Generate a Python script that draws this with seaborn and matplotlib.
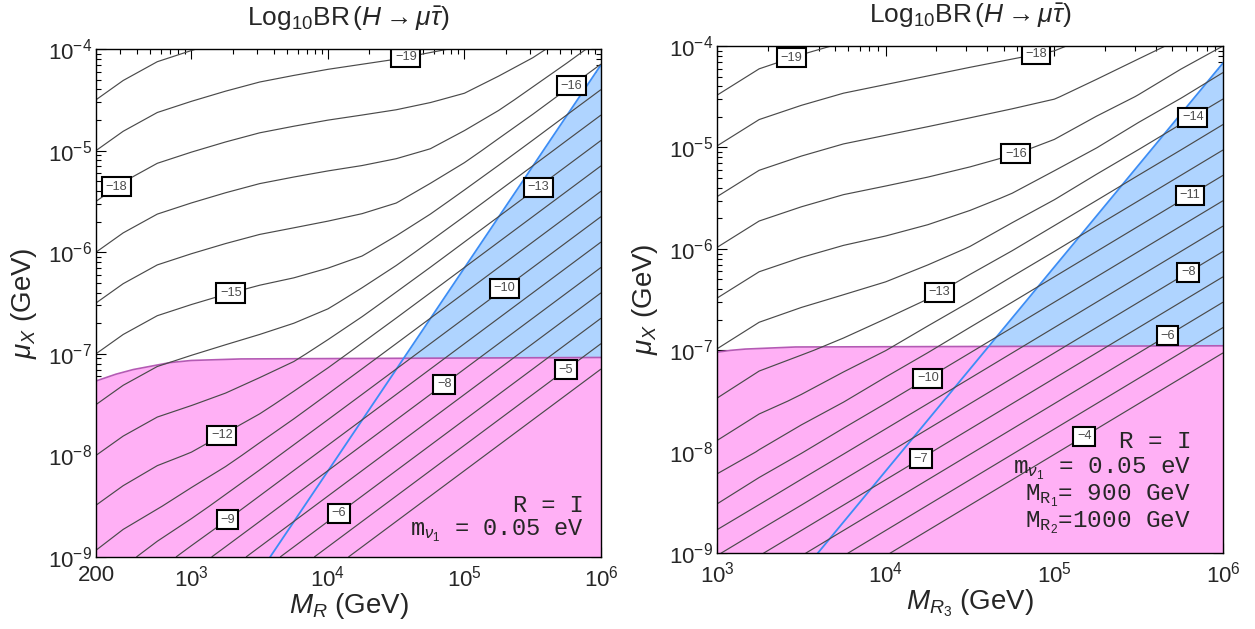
import numpy as np
import matplotlib
matplotlib.use('Agg')
import matplotlib.pyplot as plt
import seaborn as sns

sns.set_theme(style='ticks')
plt.rcParams['font.family'] = ['Liberation Sans', 'DejaVu Sans']
plt.rcParams['mathtext.fontset'] = 'custom'
plt.rcParams['mathtext.rm'] = 'Liberation Sans'
plt.rcParams['mathtext.it'] = 'Liberation Sans:italic'
plt.rcParams['mathtext.tt'] = 'Liberation Mono'

# ---- data ----
# grid: log10 of M_R [GeV] (columns) and log10 of mu_X [GeV] (rows)
log_mr_left = [2.301, 2.5, 2.75, 3.0, 3.25, 3.5, 3.75, 4.0, 4.25, 4.5, 4.75, 5.0, 5.25, 5.5, 5.75, 6.0]
log_mr_right = [3.0, 3.25, 3.5, 3.75, 4.0, 4.25, 4.5, 4.75, 5.0, 5.25, 5.5, 5.75, 6.0]
log_mux = [-9.0, -8.5, -8.0, -7.5, -7.0, -6.5, -6.0, -5.5, -5.0, -4.5, -4.0]

# log10 BR(H -> mu tau) on that grid
log_br_left = [
    [-10.85, -10.31, -9.51, -8.58, -7.60, -6.60, -5.60, -4.60, -3.60, -2.60, -1.60, -0.60, 0.40, 1.40, 2.40, 3.40],
    [-11.98, -11.58, -11.09, -10.46, -9.58, -8.60, -7.60, -6.60, -5.60, -4.60, -3.60, -2.60, -1.60, -0.60, 0.40, 1.40],
    [-13.00, -12.62, -12.23, -11.93, -11.40, -10.56, -9.59, -8.60, -7.60, -6.60, -5.60, -4.60, -3.60, -2.60, -1.60, -0.60],
    [-14.00, -13.62, -13.25, -13.02, -12.76, -12.32, -11.55, -10.59, -9.60, -8.60, -7.60, -6.60, -5.60, -4.60, -3.60, -2.60],
    [-15.00, -14.62, -14.25, -14.03, -13.82, -13.60, -13.26, -12.54, -11.59, -10.60, -9.60, -8.60, -7.60, -6.60, -5.60, -4.60],
    [-16.00, -15.62, -15.25, -15.03, -14.83, -14.65, -14.49, -14.19, -13.52, -12.59, -11.60, -10.60, -9.60, -8.60, -7.60, -6.60],
    [-17.00, -16.62, -16.25, -16.03, -15.83, -15.65, -15.52, -15.37, -15.12, -14.50, -13.59, -12.60, -11.60, -10.60, -9.60, -8.60],
    [-18.00, -17.62, -17.25, -17.03, -16.83, -16.65, -16.52, -16.40, -16.28, -16.05, -15.47, -14.58, -13.60, -12.60, -11.60, -10.60],
    [-19.00, -18.62, -18.25, -18.03, -17.83, -17.65, -17.52, -17.40, -17.30, -17.18, -16.96, -16.44, -15.57, -14.60, -13.60, -12.60],
    [-20.00, -19.62, -19.25, -19.03, -18.83, -18.65, -18.52, -18.40, -18.30, -18.20, -18.06, -17.86, -17.38, -16.56, -15.59, -14.60],
    [-21.00, -20.62, -20.25, -20.03, -19.83, -19.65, -19.52, -19.40, -19.30, -19.20, -19.07, -18.94, -18.71, -18.30, -17.54, -16.59],
]
log_br_right = [
    [-8.09, -7.10, -6.10, -5.10, -4.10, -3.10, -2.10, -1.10, -0.10, 0.90, 1.90, 2.90, 3.90],
    [-10.05, -9.08, -8.10, -7.10, -6.10, -5.10, -4.10, -3.10, -2.10, -1.10, -0.10, 0.90, 1.90],
    [-11.73, -10.94, -10.06, -9.09, -8.10, -7.10, -6.10, -5.10, -4.10, -3.10, -2.10, -1.10, -0.10],
    [-12.94, -12.36, -11.83, -11.04, -10.09, -9.10, -8.10, -7.10, -6.10, -5.10, -4.10, -3.10, -2.10],
    [-13.97, -13.44, -13.12, -12.71, -12.01, -11.09, -10.10, -9.10, -8.10, -7.10, -6.10, -5.10, -4.10],
    [-14.97, -14.45, -14.16, -13.90, -13.60, -12.98, -12.08, -11.10, -10.10, -9.10, -8.10, -7.10, -6.10],
    [-15.97, -15.45, -15.17, -14.93, -14.74, -14.47, -13.93, -13.07, -12.10, -11.10, -10.10, -9.10, -8.10],
    [-16.97, -16.45, -16.17, -15.93, -15.76, -15.58, -15.34, -14.87, -14.06, -13.09, -12.10, -11.10, -10.10],
    [-17.97, -17.45, -17.17, -16.93, -16.76, -16.59, -16.41, -16.20, -15.80, -15.02, -14.08, -13.10, -12.10],
    [-18.97, -18.45, -18.17, -17.93, -17.76, -17.59, -17.42, -17.25, -17.06, -16.61, -15.94, -15.06, -14.09],
    [-19.97, -19.45, -19.17, -18.93, -18.76, -18.59, -18.42, -18.26, -18.10, -17.75, -17.36, -16.79, -16.00],
]
levels = list(range(-20, -3))

# excluded regions (GeV)
pink_mr_left = [200, 280, 375, 700, 1000, 2300, 1e6]
pink_mux_left = [5.4e-8, 6.3e-8, 7.0e-8, 8.2e-8, 8.6e-8, 8.9e-8, 9.2e-8]
pink_mr_right = [1000, 1200, 1470, 2920, 1e6]
pink_mux_right = [9.6e-8, 1.0e-7, 1.03e-7, 1.08e-7, 1.11e-7]
blue_mr_left = [3770, 1e6]
blue_mux_left = [1e-9, 7.0e-5]
blue_mr_right = [3950, 1e6]
blue_mux_right = [1e-9, 6.8e-5]

xticks_left = [200, 1e3, 1e4, 1e5, 1e6]
xticklabels_left = ['200', '$10^{3}$', '$10^{4}$', '$10^{5}$', '$10^{6}$']
xticks_right = [1e3, 1e4, 1e5, 1e6]
xticklabels_right = ['$10^{3}$', '$10^{4}$', '$10^{5}$', '$10^{6}$']
yticks = [-9, -8, -7, -6, -5, -4]
yticklabels = ['$10^{-9}$', '$10^{-8}$', '$10^{-7}$', '$10^{-6}$', '$10^{-5}$', '$10^{-4}$']

notes_left = ['R = I', 'm$_{\\nu_1}$ = 0.05 eV']
notes_right = ['R = I', 'm$_{\\nu_1}$ = 0.05 eV', 'M$_{\\mathtt{R}_1}$= 900 GeV', 'M$_{\\mathtt{R}_2}$=1000 GeV']

# where the contour labels and notes sit
lab_left = [(4.58, -4.15), (2.447, -5.35), (5.786, -4.37), (3.30, -6.46), (5.54, -5.36), (3.21, -7.77),
            (5.30, -6.37), (3.258, -8.62), (4.858, -7.31), (4.089, -8.59), (5.749, -7.17)]
lab_right = [(3.458, -4.19), (4.906, -4.21), (4.77, -5.056), (5.818, -4.694), (4.302, -6.385), (5.806, -5.474),
             (4.247, -7.263), (5.794, -6.23), (4.206, -8.06), (5.673, -6.86), (5.178, -7.849)]
notes_y_left = [0.088, 0.043]
notes_y_right = [0.207, 0.158, 0.104, 0.051]

# ---- styles ----
pink = '#FFB0F5'
pink_edge = '#B45AB4'
blue = '#AFD4FF'
blue_line = '#3C8DF5'
line_col = '#4a4a4a'

fig = plt.figure(figsize=(12.55, 6.29), dpi=100)
ax1 = fig.add_axes([96 / 1255, 72 / 629, 505 / 1255, 508 / 629])
ax2 = fig.add_axes([717 / 1255, 75.7 / 629, 506 / 1255, 507.3 / 629])

panels = [
    (ax1, log_mr_left, log_br_left, pink_mr_left, pink_mux_left, blue_mr_left, blue_mux_left, lab_left,
     xticks_left, xticklabels_left, '$M_R$ (GeV)'),
    (ax2, log_mr_right, log_br_right, pink_mr_right, pink_mux_right, blue_mr_right, blue_mux_right, lab_right,
     xticks_right, xticklabels_right, '$M_{R_3}$ (GeV)'),
]

for ax, xs, t, pmr, pmu, bmr, bmu, labpos, xt, xtl, xlab in panels:
    bx, by = np.log10(bmr), np.log10(bmu)
    px, py = np.log10(pmr), np.log10(pmu)
    ax.fill_between(bx, -9, by, color=blue, lw=0, zorder=1)
    ax.fill_between(px, -9, py, color=pink, lw=0, zorder=1.1)
    sns.lineplot(x=px, y=py, ax=ax, color=pink_edge, lw=1.2, estimator=None, sort=False, zorder=1.2)
    sns.lineplot(x=bx, y=by, ax=ax, color=blue_line, lw=1.3, estimator=None, sort=False, zorder=1.3)

    cs = ax.contour(xs, log_mux, np.array(t), levels=levels, colors=line_col,
                    linewidths=0.85, linestyles='solid', zorder=2)
    lab = ax.clabel(cs, inline=False, fontsize=9.2, manual=labpos,
                    fmt=lambda v: f'{v:.0f}'.replace('-', '\u2212'))
    for tx in lab:
        tx.set_rotation(0)
        tx.set_zorder(5)
        tx.set_bbox(dict(boxstyle='square,pad=0.28', fc='white', ec='black', lw=1.5))

    lo = np.log10(xt[0])
    ax.set_xlim(lo, 6)
    ax.set_ylim(-9, -4)
    ax.set_xticks(np.log10(xt))
    ax.set_xticklabels(xtl)
    minx = [np.log10(k * 10.0 ** n) for n in range(2, 6) for k in range(2, 10)]
    ax.set_xticks([m for m in minx if lo < m < 6], minor=True)
    ax.set_yticks(yticks)
    ax.set_yticklabels(yticklabels)
    ax.set_yticks([np.log10(k * 10.0 ** n) for n in range(-9, -4) for k in range(2, 10)], minor=True)
    ax.tick_params(which='both', direction='in', top=True, right=True, color='black', width=0.8)
    ax.tick_params(which='major', length=7, labelsize=16)
    ax.tick_params(axis='x', which='major', pad=6)
    ax.tick_params(axis='y', which='major', pad=3)
    ax.tick_params(which='minor', length=3.5)
    for s in ax.spines.values():
        s.set_color('black')
        s.set_linewidth(1.0)
        s.set_zorder(6)
    ax.set_xlabel(xlab, fontsize=20, labelpad=0)
    ax.set_ylabel('$\\mu_X$ (GeV)', fontsize=20, labelpad=6)
    ax.set_title('Log$_{10}$BR$\\,(H \\rightarrow \\mu\\bar{\\tau})$', fontsize=19, pad=17)

for ax, notes, ny, nx, fs in [(ax1, notes_left, notes_y_left, 0.966, 17),
                              (ax2, notes_right, notes_y_right, 0.937, 17.5)]:
    for s, yy in zip(notes, ny):
        ax.text(nx, yy, s, transform=ax.transAxes, ha='right', va='baseline',
                family='Liberation Mono', fontsize=fs, zorder=7)

fig.savefig('out.png')
